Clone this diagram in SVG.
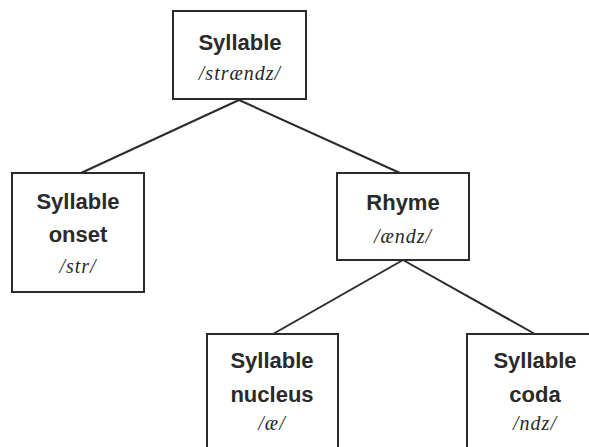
<svg xmlns="http://www.w3.org/2000/svg" width="589" height="447" viewBox="0 0 589 447">
<style>
.box{fill:#fff;stroke:#2b2b2b;stroke-width:2}
.t{font-family:"Liberation Sans",Arial,sans-serif;font-weight:bold;font-size:22px;fill:#2a2a2a;text-anchor:middle}
.p{font-family:"Liberation Serif","Times New Roman",serif;font-style:italic;font-size:20px;fill:#2a2a2a;text-anchor:middle;letter-spacing:1px}
.c{stroke:#2b2b2b;stroke-width:2;fill:none}
</style>
<rect width="589" height="447" fill="#fff"/>
<g id="connectors">
<line class="c" x1="239" y1="100" x2="81" y2="173"/>
<line class="c" x1="239" y1="100" x2="400" y2="173"/>
<line class="c" x1="403" y1="260" x2="273" y2="334"/>
<line class="c" x1="403" y1="260" x2="535" y2="334"/>
</g>
<g id="syllable">
<rect class="box" x="173" y="11" width="133" height="88"/>
<text class="t" x="240" y="50">Syllable</text>
<text class="p" x="240" y="80">/strændz/</text>
</g>
<g id="onset">
<rect class="box" x="12" y="173" width="132" height="119"/>
<text class="t" x="78" y="209">Syllable</text>
<text class="t" x="78" y="242">onset</text>
<text class="p" x="78" y="273">/str/</text>
</g>
<g id="rhyme">
<rect class="box" x="337" y="173" width="132" height="87"/>
<text class="t" x="403" y="210">Rhyme</text>
<text class="p" x="403" y="243">/ændz/</text>
</g>
<g id="nucleus">
<rect class="box" x="207" y="334" width="131" height="130"/>
<text class="t" x="272" y="368">Syllable</text>
<text class="t" x="272" y="402">nucleus</text>
<text class="p" x="272" y="430">/æ/</text>
</g>
<g id="coda">
<rect class="box" x="467" y="334" width="140" height="130"/>
<text class="t" x="535" y="368">Syllable</text>
<text class="t" x="535" y="402">coda</text>
<text class="p" x="535" y="430">/ndz/</text>
</g>
</svg>
